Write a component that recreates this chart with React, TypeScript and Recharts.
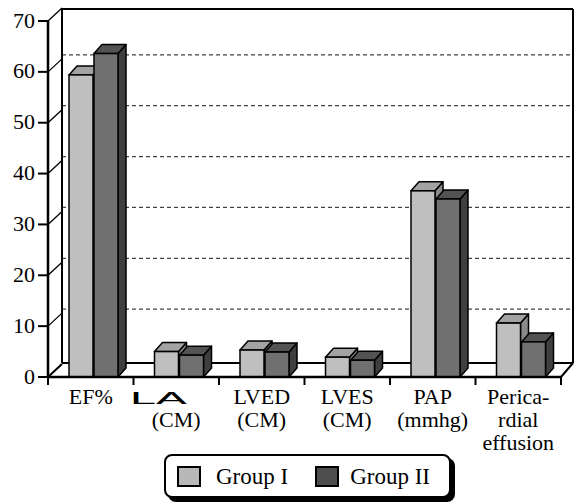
import React from 'react';
import { BarChart, Bar, XAxis, YAxis, CartesianGrid, Legend, ReferenceArea } from 'recharts';

const categories = ['EF%', 'LA\n(CM)', 'LVED\n(CM)', 'LVES\n(CM)', 'PAP\n(mmhg)', 'Perica-\nrdial\neffusion'];
const groupI = [59.4, 5.0, 5.3, 3.9, 36.6, 10.6];
const groupII = [63.6, 4.3, 4.9, 3.3, 35.0, 6.9];
const yTicks = [0, 10, 20, 30, 40, 50, 60, 70];
const seriesNames = ['Group I', 'Group II'];

const data = categories.map((c, i) => ({ category: c, g1: groupI[i], g2: groupII[i] }));

const FONT = 'Liberation Serif, Times New Roman, serif';
const DX = 8;
const DY = -9;
const WX = 14;
const WY = -13;
const SHIFT = 3;

const colorsI = { front: '#bfbfbf', top: '#a3a3a3', side: '#8a8a8a', legend: '#b8b8b8' };
const colorsII = { front: '#707070', top: '#535353', side: '#3f3f3f', legend: '#4d4d4d' };

function make3DBar(c: any) {
  return (props: any) => {
    const { x, y, width, height } = props;
    if (x == null || y == null || !width || height == null) return <g />;
    const sx = x + SHIFT;
    const w = width;
    const h = height;
    const topPts = `${sx},${y} ${sx + DX},${y + DY} ${sx + w + DX},${y + DY} ${sx + w},${y}`;
    const sidePts = `${sx + w},${y} ${sx + w + DX},${y + DY} ${sx + w + DX},${y + h + DY} ${sx + w},${y + h}`;
    return (
      <g>
        <polygon points={sidePts} fill={c.side} stroke="#000" strokeWidth={1.5} strokeLinejoin="round" />
        <polygon points={topPts} fill={c.top} stroke="#000" strokeWidth={1.5} strokeLinejoin="round" />
        <rect x={sx} y={y} width={w} height={h} fill={c.front} stroke="#000" strokeWidth={1.5} />
      </g>
    );
  };
}

const YTick = (props: any) => {
  const { x, y, payload } = props;
  const ax = x + 12;
  return (
    <g>
      <line x1={ax} y1={y} x2={ax + WX} y2={y + WY} stroke="#000" strokeWidth={payload.value === 0 ? 2 : 1.3} />
      <text x={x - 1} y={y} dy="0.3em" textAnchor="end" style={{ fontFamily: FONT, fontSize: 22 }} fill="#000">
        {payload.value}
      </text>
    </g>
  );
};

const XTick = (props: any) => {
  const { x, y, payload } = props;
  const lines = String(payload.value).split('\n');
  return (
    <g>
      {lines.map((l, i) =>
        i === 0 && l === 'LA' ? (
          <text
            key={i}
            x={x - 47}
            y={y + 27}
            textAnchor="start"
            style={{ fontFamily: 'DejaVu Sans, sans-serif', fontSize: 16 }}
            textLength={58}
            lengthAdjust="spacingAndGlyphs"
            fill="#000"
          >
            {l}
          </text>
        ) : (
          <text key={i} x={x} y={y + 27 + i * 23} textAnchor="middle" style={{ fontFamily: FONT, fontSize: 22 }} fill="#000">
            {l}
          </text>
        )
      )}
    </g>
  );
};

const GridLine = (p: any) => {
  const { x1, x2, y1 } = p;
  if (p.y != null && p.height != null) {
    if (Math.abs(y1 - p.y) < 1 || Math.abs(y1 - (p.y + p.height)) < 1) return <g key={p.key} />;
  }
  return (
    <line
      key={p.key}
      x1={x1 + WX}
      x2={x2 + WX - 2}
      y1={y1 - 17}
      y2={y1 - 17}
      stroke="#444"
      strokeWidth={1.2}
      strokeDasharray="4 3"
    />
  );
};

const WallShape = (p: any) => {
  const { x, y, width, height } = p;
  if (x == null) return <g />;
  const left = x + WX;
  const right = x + width + WX - 2;
  const top = y + WY + 1;
  const bottom = y + height;
  const floorBack = bottom + WY - 1;
  const n = categories.length;
  const ticks = [];
  for (let i = 0; i <= n; i++) {
    const tx = x + (width * i) / n;
    ticks.push(<line key={i} x1={tx} x2={tx} y1={bottom} y2={bottom + 8} stroke="#000" strokeWidth={2} />);
  }
  return (
    <g>
      <line x1={left} y1={top - 1} x2={left} y2={floorBack} stroke="#000" strokeWidth={2} />
      <line x1={left} y1={top} x2={right} y2={top} stroke="#000" strokeWidth={2} />
      <line x1={right} y1={top} x2={right} y2={floorBack} stroke="#000" strokeWidth={2} />
      <line x1={left} y1={floorBack} x2={right} y2={floorBack} stroke="#000" strokeWidth={2} />
      <line x1={x + width} y1={bottom} x2={right} y2={floorBack} stroke="#000" strokeWidth={2} />
      {ticks}
    </g>
  );
};

const LegendContent = (props: any) => {
  const payload = props.payload && props.payload.length ? props.payload : seriesNames.map((s) => ({ value: s }));
  const sw = [colorsI.legend, colorsII.legend];
  return (
    <div style={{ position: 'relative', width: 577, height: 51 }}>
      <div
        style={{
          position: 'absolute',
          left: 164,
          top: 1,
          width: 287,
          height: 44,
          boxSizing: 'border-box',
          border: '2.5px solid #000',
          borderRadius: 8,
          boxShadow: '4px 4px 0 #000',
          background: '#fff',
          display: 'flex',
          alignItems: 'center',
          paddingLeft: 11,
        }}
      >
        {payload.map((item: any, i: number) => (
          <div key={i} style={{ display: 'flex', alignItems: 'center', marginRight: i === 0 ? 27 : 0 }}>
            <div
              style={{
                width: 24,
                height: 21,
                boxSizing: 'border-box',
                border: '2px solid #000',
                background: sw[i],
                marginRight: i === 0 ? 15 : 11,
              }}
            />
            <span style={{ fontFamily: FONT, fontSize: 23, lineHeight: '23px', color: '#000' }}>{item.value}</span>
          </div>
        ))}
      </div>
    </div>
  );
};

export default function App() {
  return (
    <div style={{ position: 'absolute', left: 0, top: 0, width: 577, height: 504, background: '#fff', fontFamily: FONT }}>
      <BarChart
        width={577}
        height={504}
        data={data}
        margin={{ top: 21, right: 16, left: 0, bottom: 0 }}
        barSize={24}
        barGap={1}
      >
        <CartesianGrid vertical={false} horizontal={GridLine as any} />
        <ReferenceArea y1={0} y2={70} shape={WallShape as any} ifOverflow="visible" />
        <XAxis
          dataKey="category"
          interval={0}
          height={76}
          tickLine={false}
          tickSize={0}
          tickMargin={0}
          axisLine={{ stroke: '#000', strokeWidth: 2.5 }}
          tick={XTick as any}
        />
        <YAxis
          width={48}
          domain={[0, 70]}
          ticks={yTicks}
          interval={0}
          tickSize={10}
          tickMargin={2}
          axisLine={{ stroke: '#000', strokeWidth: 2.5 }}
          tickLine={{ stroke: '#000', strokeWidth: 2 }}
          tick={YTick as any}
        />
        <Bar dataKey="g1" name={seriesNames[0]} fill={colorsI.legend} shape={make3DBar(colorsI)} isAnimationActive={false} />
        <Bar dataKey="g2" name={seriesNames[1]} fill={colorsII.legend} shape={make3DBar(colorsII)} isAnimationActive={false} />
        <Legend verticalAlign="bottom" height={51} content={LegendContent as any} wrapperStyle={{ left: 0, bottom: 0, width: 577, height: 51 }} />
      </BarChart>
    </div>
  );
}
